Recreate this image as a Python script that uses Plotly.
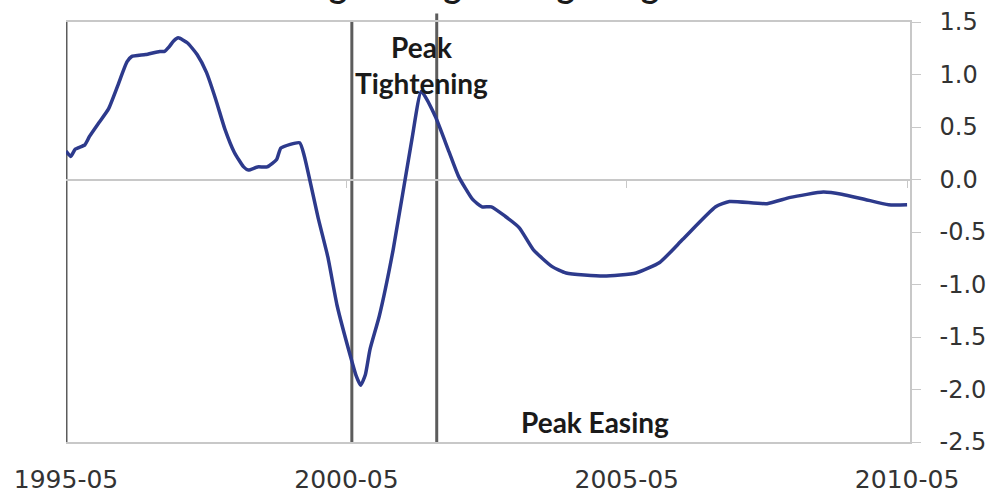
import plotly.graph_objects as go

# series (monthly dates, index value)
dates = ['1995-05', '1995-06', '1995-07', '1995-09', '1995-10', '1995-12',
         '1996-02', '1996-04', '1996-06', '1996-07', '1996-10', '1997-01',
         '1997-02', '1997-03', '1997-04', '1997-05', '1997-07', '1997-09',
         '1997-11', '1998-01', '1998-03', '1998-05', '1998-07', '1998-08',
         '1998-10', '1998-12', '1999-02', '1999-03', '1999-07', '1999-08',
         '1999-11', '2000-01', '2000-03', '2000-06', '2000-07', '2000-08',
         '2000-09', '2000-10', '2000-12', '2001-03', '2001-07', '2001-09',
         '2001-12', '2002-03', '2002-05', '2002-08', '2002-10', '2002-12',
         '2003-03', '2003-06', '2003-09', '2004-01', '2004-04', '2004-12',
         '2005-07', '2005-12', '2006-05', '2006-12', '2007-03', '2007-11',
         '2008-04', '2008-11', '2009-03', '2009-08', '2010-01', '2010-05']
values = [0.27, 0.22, 0.29, 0.33, 0.41, 0.54,
          0.67, 0.89, 1.12, 1.17, 1.19, 1.22,
          1.22, 1.26, 1.32, 1.35, 1.30, 1.19,
          1.02, 0.76, 0.48, 0.26, 0.12, 0.09,
          0.12, 0.12, 0.19, 0.30, 0.35, 0.22,
          -0.38, -0.74, -1.20, -1.71, -1.86, -1.96,
          -1.86, -1.62, -1.30, -0.67, 0.38, 0.84,
          0.60, 0.26, 0.03, -0.19, -0.26, -0.26,
          -0.35, -0.46, -0.67, -0.83, -0.89, -0.92,
          -0.89, -0.79, -0.57, -0.26, -0.21, -0.23,
          -0.17, -0.12, -0.14, -0.19, -0.24, -0.24]

marker_dates = ['1995-05-01', '2000-06-05', '2001-12-10']
xtick_vals = ['1995-05-01', '2000-05-01', '2005-05-01', '2010-05-01']
xtick_text = ['1995-05', '2000-05', '2005-05', '2010-05']
ytick_vals = [-2.5, -2.0, -1.5, -1.0, -0.5, 0.0, 0.5, 1.0, 1.5]
ytick_text = ['-2.5', '-2.0', '-1.5', '-1.0', '-0.5', '0.0', '0.5', '1.0', '1.5']

tick_font = dict(family='DejaVu Sans', size=24, color='#333333')
label_font = dict(family='Lato', size=28, color='#1a1a1a')

fig = go.Figure()
fig.add_trace(go.Scatter(x=dates, y=values, mode='lines',
                         line=dict(color='#2d3a8c', width=3.5, shape='spline', smoothing=0.5),
                         showlegend=False, hoverinfo='skip'))
# helper trace so the tick marks on the zero line get drawn
fig.add_trace(go.Scatter(x=[dates[0]], y=[None], xaxis='x2', showlegend=False))

for i, d in enumerate(marker_dates):
    fig.add_shape(type='line', xref='x', yref='paper', x0=d, x1=d, y0=0,
                  y1=1.02 if i == 2 else 1,
                  line=dict(color='#5c5c5c', width=3), layer='below')

fig.add_annotation(text='<b>Peak</b><br><b>Tightening</b>', x='2001-09-05', y=1.095,
                   yanchor='middle', showarrow=False, font=label_font)
fig.add_annotation(text='<b>Peak Easing</b>', x='2004-10-08', y=-2.305,
                   yanchor='middle', showarrow=False, font=label_font)
# title sits mostly above the top edge, only its descenders show
fig.add_annotation(text='<b>Tightening/Easing Range</b>', xref='paper', yref='paper',
                   x=0.5, y=1.035, yanchor='bottom', showarrow=False,
                   font=dict(family='Lato', size=34, color='#1a1a1a'))

fig.update_layout(
    width=995, height=500,
    margin=dict(l=66, r=85, t=22, b=58),
    plot_bgcolor='white', paper_bgcolor='white',
    xaxis=dict(range=['1995-05-01', '2010-05-20'], tickvals=xtick_vals, ticktext=xtick_text,
               showgrid=False, zeroline=False, showline=True, mirror=True,
               linecolor='#c8c8c8', linewidth=1.5, ticks='', ticklabelstandoff=14,
               tickfont=dict(family='DejaVu Sans', size=25, color='#333333'),
               automargin=False),
    xaxis2=dict(overlaying='x', matches='x', anchor='free', position=0.6238,
                tickvals=xtick_vals[1:], showticklabels=False, ticks='outside',
                ticklen=7, tickcolor='#c8c8c8', showline=False, showgrid=False,
                zeroline=False),
    yaxis=dict(range=[-2.5, 1.5], tickvals=ytick_vals, ticktext=ytick_text, side='right',
               showgrid=False, zeroline=True, zerolinecolor='#c8c8c8', zerolinewidth=1.5,
               showline=True, linecolor='#c8c8c8', linewidth=1.5,
               ticks='outside', ticklen=9, tickcolor='#c8c8c8',
               ticklabelstandoff=14, tickfont=tick_font, automargin=False),
)

fig.write_html("out.html", config={'displayModeBar': False},
               post_script="document.body.style.margin = '0';")
